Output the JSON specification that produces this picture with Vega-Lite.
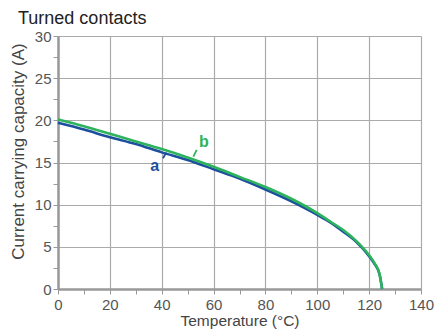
{
  "$schema": "https://vega.github.io/schema/vega-lite/v6.json",
  "width": 363,
  "height": 253,
  "autosize": "none",
  "padding": {"left": 58, "top": 36, "right": 19, "bottom": 43},
  "background": "white",
  "title": {"text": "Turned contacts", "anchor": "start", "frame": "group", "dx": -40, "offset": 1, "fontSize": 18, "font": "Liberation Sans Narrow, Liberation Sans", "fontWeight": "normal", "color": "#222"},
  "config": {
    "view": {"stroke": null},
    "axis": {"labelFont": "Liberation Sans", "titleFont": "Liberation Sans", "labelFontSize": 15, "titleFontSize": 15.5, "titleFontWeight": "normal", "labelColor": "#555", "titleColor": "#444", "gridColor": "#aaa", "gridWidth": 1.2, "domainColor": "#999", "domainWidth": 2.5, "tickColor": "#999", "tickSize": 5}
  },
  "datasets": {
    "curves": [
      {"t": 0, "i": 20.1, "s": "b"}, {"t": 10, "i": 19.3, "s": "b"}, {"t": 20, "i": 18.4, "s": "b"}, {"t": 30, "i": 17.5, "s": "b"}, {"t": 40, "i": 16.6, "s": "b"}, {"t": 50, "i": 15.6, "s": "b"}, {"t": 60, "i": 14.5, "s": "b"}, {"t": 70, "i": 13.3, "s": "b"}, {"t": 80, "i": 12.1, "s": "b"}, {"t": 90, "i": 10.7, "s": "b"}, {"t": 100, "i": 9.0, "s": "b"}, {"t": 105, "i": 8.0, "s": "b"}, {"t": 110, "i": 7.0, "s": "b"}, {"t": 115, "i": 5.7, "s": "b"}, {"t": 120, "i": 4.0, "s": "b"}, {"t": 122, "i": 3.1, "s": "b"}, {"t": 124, "i": 1.8, "s": "b"}, {"t": 125, "i": 0, "s": "b"},
      {"t": 0, "i": 19.7, "s": "a"}, {"t": 10, "i": 18.9, "s": "a"}, {"t": 20, "i": 18.0, "s": "a"}, {"t": 30, "i": 17.2, "s": "a"}, {"t": 40, "i": 16.2, "s": "a"}, {"t": 50, "i": 15.3, "s": "a"}, {"t": 60, "i": 14.2, "s": "a"}, {"t": 70, "i": 13.1, "s": "a"}, {"t": 80, "i": 11.8, "s": "a"}, {"t": 90, "i": 10.4, "s": "a"}, {"t": 100, "i": 8.8, "s": "a"}, {"t": 105, "i": 7.9, "s": "a"}, {"t": 110, "i": 6.8, "s": "a"}, {"t": 115, "i": 5.6, "s": "a"}, {"t": 120, "i": 3.9, "s": "a"}, {"t": 122, "i": 3.0, "s": "a"}, {"t": 124, "i": 1.75, "s": "a"}, {"t": 125, "i": 0, "s": "a"}
    ],
    "labels": [
      {"t": 37.3, "i": 14.6, "s": "a", "t1": 40.5, "i1": 15.5, "t2": 41.8, "i2": 16.2},
      {"t": 56.3, "i": 17.4, "s": "b", "t1": 52.2, "i1": 15.7, "t2": 53.5, "i2": 16.5}
    ]
  },
  "encoding": {
    "x": {"field": "t", "type": "quantitative", "scale": {"domain": [0, 140], "nice": false},
      "axis": {"title": "Temperature (°C)", "values": [0, 10, 20, 30, 40, 50, 60, 70, 80, 90, 100, 110, 120, 130, 140], "labelExpr": "datum.value % 20 == 0 ? datum.label : ''", "gridOpacity": {"condition": {"test": "datum.value % 20 == 0", "value": 1}, "value": 0}, "labelPadding": 3, "titlePadding": 1, "labelFlush": false}},
    "y": {"field": "i", "type": "quantitative", "scale": {"domain": [0, 30], "nice": false},
      "axis": {"title": "Current carrying capacity (A)", "titleFontSize": 17, "values": [0, 2.5, 5, 7.5, 10, 12.5, 15, 17.5, 20, 22.5, 25, 27.5, 30], "labelExpr": "datum.value % 5 == 0 ? datum.label : ''", "gridOpacity": {"condition": {"test": "datum.value % 5 == 0", "value": 1}, "value": 0}, "labelPadding": 2, "titleX": -40, "titleY": 115, "titleBaseline": "middle", "titleAlign": "center"}},
    "color": {"field": "s", "type": "nominal", "scale": {"domain": ["a", "b"], "range": ["#1c4f9e", "#2db35c"]}, "legend": null}
  },
  "layer": [
    {
      "data": {"name": "curves"},
      "transform": [{"filter": "datum.s == 'a'"}],
      "mark": {"type": "line", "interpolate": "monotone", "strokeWidth": 2.6}
    },
    {
      "data": {"name": "curves"},
      "transform": [{"filter": "datum.s == 'b'"}],
      "mark": {"type": "line", "interpolate": "monotone", "strokeWidth": 2.6}
    },
    {
      "data": {"name": "labels"},
      "mark": {"type": "rule", "strokeWidth": 1.8},
      "encoding": {
        "x": {"field": "t1", "type": "quantitative"},
        "y": {"field": "i1", "type": "quantitative"},
        "x2": {"field": "t2"},
        "y2": {"field": "i2"}
      }
    },
    {
      "data": {"name": "labels"},
      "mark": {"type": "text", "font": "Liberation Sans", "fontSize": 16, "fontWeight": "bold", "baseline": "middle", "align": "center"},
      "encoding": {
        "text": {"field": "s"}
      }
    }
  ]
}
